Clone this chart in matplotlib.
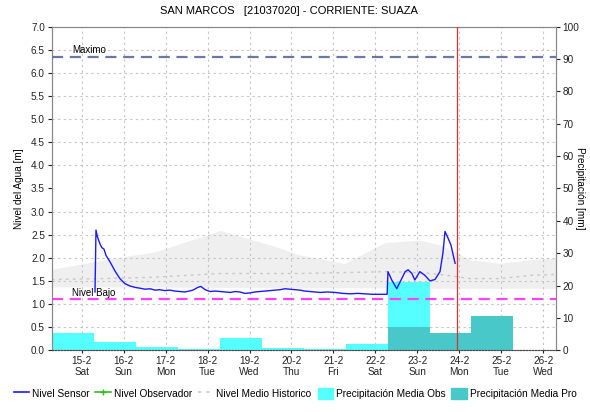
import numpy as np
import matplotlib
matplotlib.use('Agg')
import matplotlib.pyplot as plt
from matplotlib.lines import Line2D
from matplotlib.patches import Patch

plt.rcParams['font.family'] = ['Liberation Sans', 'DejaVu Sans']

# time axis in days of February (fractional days)
tick_days = list(range(15, 27))
tick_labels = ['15-2\nSat', '16-2\nSun', '17-2\nMon', '18-2\nTue', '19-2\nWed', '20-2\nThu',
               '21-2\nFri', '22-2\nSat', '23-2\nSun', '24-2\nMon', '25-2\nTue', '26-2\nWed']

# Nivel sensor [m]
sensor_t = [15.317, 15.33, 15.34, 15.376, 15.436, 15.48, 15.53, 15.58, 15.67, 15.79, 15.91,
            16.03, 16.15, 16.27, 16.40, 16.51, 16.63, 16.75, 16.86, 16.98, 17.10, 17.22, 17.34,
            17.46, 17.56, 17.65, 17.77, 17.84, 17.94,
            18.06, 18.18, 18.30, 18.42, 18.54, 18.66, 18.77, 18.89, 19.01, 19.13, 19.25, 19.37,
            19.49, 19.61, 19.73, 19.85, 19.96, 20.08, 20.20, 20.32, 20.44, 20.56, 20.68, 20.86,
            21.04, 21.22, 21.40, 21.58, 21.75, 21.93, 22.11, 22.28, 22.30, 22.39, 22.51, 22.59,
            22.71, 22.78, 22.87, 22.94, 23.06, 23.18, 23.30, 23.42, 23.54, 23.61, 23.66, 23.73,
            23.80, 23.90]
sensor_v = [1.26, 2.00, 2.60, 2.45, 2.30, 2.22, 2.19, 2.05, 1.92, 1.72, 1.55,
            1.44, 1.39, 1.36, 1.34, 1.32, 1.33, 1.30, 1.31, 1.29, 1.30, 1.28, 1.27,
            1.26, 1.28, 1.30, 1.36, 1.38, 1.31,
            1.27, 1.28, 1.27, 1.26, 1.25, 1.27, 1.26, 1.23, 1.24, 1.26, 1.27, 1.28,
            1.29, 1.30, 1.31, 1.33, 1.32, 1.31, 1.30, 1.28, 1.27, 1.26, 1.25, 1.26,
            1.25, 1.23, 1.22, 1.23, 1.22, 1.21, 1.21, 1.21, 1.70, 1.52, 1.33, 1.48,
            1.70, 1.74, 1.66, 1.52, 1.70, 1.62, 1.50, 1.53, 1.70, 2.10, 2.57, 2.43,
            2.28, 1.88]

# Nivel medio historico [m] with band
hist_t = [14.29, 15.5, 16.75, 17.5, 18.30, 19.49, 20.20, 21.27, 22.23, 23.06, 23.54,
          24.26, 24.97, 25.69, 26.30]
hist_low = [1.37, 1.37, 1.37, 1.36, 1.36, 1.36, 1.35, 1.35, 1.35, 1.35, 1.34,
            1.34, 1.34, 1.34, 1.34]
hist_high = [1.75, 1.95, 2.13, 2.35, 2.59, 2.28, 2.06, 1.88, 2.33, 2.38, 2.28,
             1.96, 1.88, 1.96, 1.99]
hist_mean = [1.53, 1.55, 1.58, 1.62, 1.66, 1.66, 1.66, 1.68, 1.70, 1.68, 1.64,
             1.55, 1.55, 1.62, 1.64]

nivel_maximo = 6.35
nivel_bajo = 1.10
ahora = 23.95

# Precipitacion diaria [mm] (07:00 a 07:00)
obs_start = [14.29, 15.29, 16.29, 17.29, 18.29, 19.29, 20.29, 21.29, 22.29]
obs_mm = [5.4, 2.6, 1.0, 0.3, 3.8, 0.7, 0.5, 1.9, 21.0]
pro_start = [22.29, 23.29, 24.29]
pro_mm = [7.2, 5.4, 10.6]

fig = plt.figure(figsize=(5.9, 4.12), dpi=100)
ax = fig.add_axes([0.088, 0.150, 0.854, 0.785])
ax2 = ax.twinx()
ax.set_zorder(2)
ax2.set_zorder(1)
ax.patch.set_visible(False)

# back axis: band, grid, bars
ax2.fill_between(hist_t, hist_low, hist_high, color='#efefef', lw=0, zorder=0.5,
                 transform=ax.transData)
ax2.bar(obs_start, obs_mm, width=1.0, align='edge', color='#55ffff', zorder=2)
ax2.bar(pro_start, pro_mm, width=1.0, align='edge', color='#48c8c8', zorder=2.1)
ax2.set_ylim(0, 100)
ax2.set_yticks(np.arange(0, 101, 10))
ax2.set_yticks(np.arange(0, 7.01, 0.5) * 100 / 7, minor=True)
ax2.tick_params(axis='y', which='minor', length=0)
ax2.xaxis.set_visible(True)
ax2.tick_params(axis='x', labelbottom=False, bottom=False)
ax2.grid(True, which='minor', axis='y', color='#c4c4c4', ls=(0, (2, 3)), lw=0.8, zorder=1)
ax2.grid(True, which='major', axis='x', color='#c4c4c4', ls=(0, (2, 3)), lw=0.8, zorder=1)
ax2.set_ylabel('Precipitación [mm]', rotation=-90, labelpad=4, fontsize=7.2)
ax2.tick_params(axis='y', labelsize=7.2, colors='#222222', length=3, pad=2)

# front axis: lines
ax.plot(sensor_t, sensor_v, color='#1a1aff', lw=1.0, zorder=3)
ax.plot(hist_t, hist_mean, color='#c8c8c8', lw=1.0, ls=(0, (2, 3)), zorder=2)
ax.axhline(nivel_maximo, color='#6a78a8', lw=1.6, ls=(0, (5, 3)), zorder=3)
ax.axhline(nivel_bajo, color='#ff40ff', lw=1.6, ls=(0, (5, 3)), zorder=3)
ax.axvline(ahora, color='#e03030', lw=0.9, zorder=4)
ax.text(14.77, nivel_maximo + 0.03, 'Maximo', fontsize=7, va='bottom')
ax.text(14.77, nivel_bajo + 0.03, 'Nivel Bajo', fontsize=7, va='bottom')

ax.set_xlim(14.29, 26.30)
ax.set_ylim(0, 7)
ax.set_yticks(np.arange(0, 7.01, 0.5))
ax.set_yticklabels(['%.1f' % v for v in np.arange(0, 7.01, 0.5)])
ax.set_xticks(tick_days)
ax.set_xticklabels(tick_labels)
ax.tick_params(axis='both', labelsize=7.2, colors='#222222', length=3, pad=2)
ax.tick_params(axis='x', length=2)
ax.set_ylabel('Nivel del Agua [m]', fontsize=7.2, labelpad=5)

for a in (ax, ax2):
    for s in a.spines.values():
        s.set_color('#888888')
ax.spines['bottom'].set_linestyle(':')
ax.spines['bottom'].set_color('#444444')

fig.suptitle('SAN MARCOS   [21037020] - CORRIENTE: SUAZA', x=0.49, y=0.985,
             va='top', fontsize=8)

handles = [
    Line2D([], [], color='#1a1aff', lw=1.2),
    Line2D([], [], color='#33bb22', lw=1.2, marker='+', markersize=4),
    Line2D([], [], color='#c8c8c8', lw=1.2, ls=(0, (2, 3))),
    Patch(color='#55ffff'),
    Patch(color='#48c8c8'),
]
labels = ['Nivel Sensor', 'Nivel Observador', 'Nivel Medio Historico',
          'Precipitación Media Obs', 'Precipitación Media Pro']
fig.legend(handles, labels, loc='lower center', bbox_to_anchor=(0.5, 0.01), ncol=5,
           frameon=False, fontsize=7.3, handlelength=1.5, handletextpad=0.3,
           columnspacing=0.6, handleheight=1.2)

fig.savefig('out.png', dpi=100)
